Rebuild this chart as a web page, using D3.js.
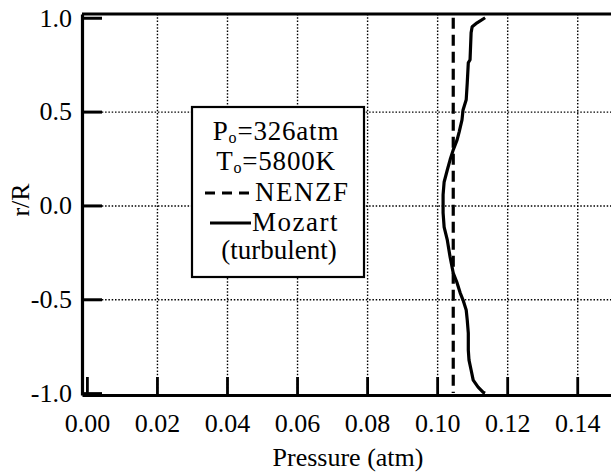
<!DOCTYPE html>
<html><head><meta charset="utf-8">
<script src="https://cdn.jsdelivr.net/npm/d3@7"></script>
<style>
body{margin:0;background:#fff}
svg text{font-family:"Liberation Serif","Times New Roman",Times,"DejaVu Serif",serif !important;fill:#000}
</style>
</head><body>
<svg id="c" width="611" height="476"></svg>
<script>
// ---- data ----
const xTicks = [0, 0.02, 0.04, 0.06, 0.08, 0.10, 0.12, 0.14];
const xTickLabels = ["0.00", "0.02", "0.04", "0.06", "0.08", "0.10", "0.12", "0.14"];
const yTicks = [1.0, 0.5, 0.0, -0.5, -1.0];
const yTickLabels = ["1.0", "0.5", "0.0", "-0.5", "-1.0"];
const xTitle = "Pressure (atm)";
const yTitle = "r/R";
const mozartR = [1.0, 0.973, 0.952, 0.92, 0.776, 0.76, 0.653, 0.563, 0.509, 0.456, 0.392, 0.349, 0.296, 0.243, 0.189, 0.125, 0.056, -0.04, -0.115, -0.184, -0.275, -0.36, -0.413, -0.467, -0.504, -0.557, -0.611, -0.68, -0.771, -0.824, -0.877, -0.931, -0.968, -0.995, -1.0];
const mozartP = [0.1137, 0.1114, 0.1100, 0.1097, 0.1094, 0.1089, 0.1086, 0.1083, 0.1074, 0.1071, 0.1063, 0.1057, 0.1046, 0.1037, 0.1029, 0.1020, 0.1017, 0.1017, 0.1020, 0.1029, 0.1037, 0.1046, 0.1057, 0.1066, 0.1074, 0.1083, 0.1086, 0.1089, 0.1089, 0.1091, 0.1097, 0.1103, 0.1117, 0.1131, 0.1137];
const nenzfR = [1.0, -1.0];
const nenzfP = [0.1046, 0.1046];
const legendHeader = [["P", "o", "=326atm"], ["T", "o", "=5800K"]];
const seriesNames = ["NENZF", "Mozart"];
const legendFooter = "(turbulent)";

// ---- layout ----
const svg = d3.select("#c");
const xMin = -0.0014, xMax = 0.1505, yMin = -1.01, yMax = 1.02;
const mLeft = 82, mRight = 614, mTop = 14, mBottom = 395;
const x = d3.scaleLinear().domain([xMin, xMax]).range([mLeft, mRight]);
const y = d3.scaleLinear().domain([yMin, yMax]).range([mBottom, mTop]);
const FS = 26, LFS = 27, LLS = "0.8px";

// gridlines
const gx = svg.append("g").attr("transform", `translate(0,${mBottom})`)
  .call(d3.axisBottom(x).tickValues(xTicks.filter(d => d !== 0)).tickSize(-(mBottom - mTop)).tickFormat(""));
gx.select(".domain").remove();
gx.selectAll("line").attr("stroke", "#000").attr("stroke-width", 1.4).attr("stroke-dasharray", "1.5 1.8");
const gy = svg.append("g").attr("transform", `translate(${mLeft},0)`)
  .call(d3.axisLeft(y).tickValues(yTicks.filter(d => Math.abs(d) !== 1)).tickSize(-(mRight - mLeft)).tickFormat(""));
gy.select(".domain").remove();
gy.selectAll("line").attr("stroke", "#000").attr("stroke-width", 1.4).attr("stroke-dasharray", "1.5 1.8");

// legend box
const lg = svg.append("g");
lg.append("rect").attr("x", 192).attr("y", 107).attr("width", 172).attr("height", 170)
  .attr("fill", "#fff").attr("stroke", "#000").attr("stroke-width", 2.2);
legendHeader.forEach((parts, i) => {
  const t = lg.append("text").attr("x", 276).attr("y", 140 + i * 29.5).attr("text-anchor", "middle")
    .style("font-size", LFS + "px").style("letter-spacing", LLS);
  t.append("tspan").text(parts[0]);
  t.append("tspan").text(parts[1]).style("font-size", "16px").attr("dy", 3);
  t.append("tspan").text(parts[2]).attr("dy", -3);
});
lg.append("line").attr("x1", 205).attr("x2", 252).attr("y1", 193).attr("y2", 193)
  .attr("stroke", "#000").attr("stroke-width", 3).attr("stroke-dasharray", "10 7");
lg.append("text").attr("x", 255).attr("y", 201).style("font-size", LFS + "px").style("letter-spacing", "1.5px").text(seriesNames[0]);
lg.append("line").attr("x1", 210).attr("x2", 251).attr("y1", 223).attr("y2", 223)
  .attr("stroke", "#000").attr("stroke-width", 3);
lg.append("text").attr("x", 252).attr("y", 231).style("font-size", LFS + "px").style("letter-spacing", "1.5px").text(seriesNames[1]);
lg.append("text").attr("x", 279).attr("y", 259).attr("text-anchor", "middle").style("font-size", LFS + "px").text(legendFooter);

// series
const line = d3.line().x(d => x(d[0])).y(d => y(d[1]));
svg.append("path").datum(nenzfP.map((p, i) => [p, nenzfR[i]]))
  .attr("d", line).attr("fill", "none").attr("stroke", "#000").attr("stroke-width", 3.2).attr("stroke-dasharray", "11 6");
svg.append("path").datum(mozartP.map((p, i) => [p, mozartR[i]]))
  .attr("d", line).attr("fill", "none").attr("stroke", "#000").attr("stroke-width", 3.2).attr("stroke-linejoin", "round");

// axes
const ax = svg.append("g").attr("transform", `translate(0,${mBottom})`)
  .call(d3.axisBottom(x).tickValues(xTicks).tickSize(-18).tickSizeOuter(0).tickPadding(19)
    .tickFormat((d, i) => xTickLabels[i]));
ax.attr("font-family", null);
ax.select(".domain").attr("stroke-width", 3);
ax.selectAll(".tick line").attr("stroke-width", 2.8);
ax.selectAll(".tick text").attr("fill", "#000").style("font-size", FS + "px");

const ay = svg.append("g").attr("transform", `translate(${mLeft},0)`)
  .call(d3.axisLeft(y).tickValues(yTicks).tickSize(-20).tickSizeOuter(0).tickPadding(10)
    .tickFormat((d, i) => yTickLabels[i]));
ay.attr("font-family", null);
ay.select(".domain").attr("stroke-width", 3.2);
ay.selectAll(".tick line").attr("stroke-width", 3);
ay.selectAll(".tick text").attr("fill", "#000").style("font-size", FS + "px");

// top frame
svg.append("line").attr("x1", x(xMin)).attr("x2", x(xMax)).attr("y1", y(yMax)).attr("y2", y(yMax))
  .attr("stroke", "#000").attr("stroke-width", 3);

// titles
svg.append("text").attr("x", 348).attr("y", 466).attr("text-anchor", "middle").style("font-size", FS + "px").text(xTitle);
svg.append("text").attr("transform", "translate(29,200) rotate(-90)").attr("text-anchor", "middle").style("font-size", FS + "px").text(yTitle);
</script>
</body></html>
